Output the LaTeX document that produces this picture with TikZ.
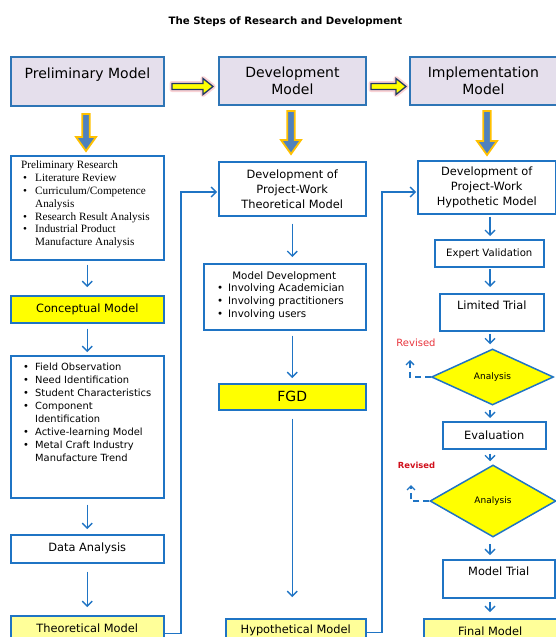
\documentclass[tikz,border=0pt]{standalone}
\usepackage{fontspec}
\setmainfont{DejaVu Sans}
\newfontfamily\timesf{Liberation Serif}
\usetikzlibrary{arrows.meta,shapes.geometric}
\definecolor{cblue}{HTML}{1F74C4}
\definecolor{tblue}{HTML}{2E75B6}
\definecolor{lav}{HTML}{E5DFEC}
\definecolor{yel}{HTML}{FFFF00}
\definecolor{lyel}{HTML}{FFFF99}
\definecolor{steel}{HTML}{4F81BD}
\definecolor{gold}{HTML}{FFC000}
\definecolor{navy}{HTML}{1F3864}
\definecolor{glow}{HTML}{F4A6AC}
\definecolor{revred}{HTML}{E8343C}
\definecolor{revdark}{HTML}{D0101C}
\newcommand{\fs}[2]{\fontsize{#1}{#2}\selectfont}
\newcommand{\bl}[2]{\makebox[#1][l]{\hspace{#2}•}}
\newcommand{\harrow}[3]{%
  \draw[draw=glow, line width=5pt, opacity=0.5, line join=round]
    (#1,#3-3) -- (#2-10,#3-3) -- (#2-10,#3-8) -- (#2,#3) -- (#2-10,#3+8) -- (#2-10,#3+3) -- (#1,#3+3) -- cycle;
  \draw[harr]
    (#1,#3-3) -- (#2-10,#3-3) -- (#2-10,#3-8) -- (#2,#3) -- (#2-10,#3+8) -- (#2-10,#3+3) -- (#1,#3+3) -- cycle;}
\newcommand{\varrow}[3]{%
  \draw[varr]
    (#1-3.8,#2) -- (#1+3.8,#2) -- (#1+3.8,#3-14) -- (#1+10,#3-14) -- (#1,#3) -- (#1-10,#3-14) -- (#1-3.8,#3-14) -- cycle;}
\tikzset{
  box/.style={draw=cblue, line width=1.5pt, fill=white, inner sep=1pt, anchor=north west, align=center, font=\fs{11.4}{15}},
  topbox/.style={box, draw=tblue, line width=1.8pt, fill=lav, font=\fs{14}{17}},
  arr/.style={draw=cblue, line width=1.4pt, -{Straight Barb[length=5pt,width=10pt]}},
  dasharr/.style={draw=cblue, line width=1.3pt, dash pattern=on 6pt off 4pt, -{Straight Barb[length=4pt,width=8pt]}},
  dia/.style={diamond, draw=cblue, line width=1.5pt, fill=yel, inner sep=0pt, font=\fs{9}{11}},
  txt/.style={inner sep=0pt, anchor=north west, align=left},
  harr/.style={fill=yel, draw=navy, line width=1.3pt, line join=miter},
  varr/.style={fill=steel, draw=gold, line width=1.8pt, line join=miter},
}
\begin{document}
\begin{tikzpicture}[x=1pt,y=-1pt]
\useasboundingbox (0,0) rectangle (556,637);
\node[font=\bfseries\fs{10.2}{12}] (title) at (285.5,22) {The Steps of Research and Development};

% top row
\node[topbox, minimum width=153pt, minimum height=49pt] (pm) at (10,56) {Preliminary Model\\\mbox{}};
\node[topbox, minimum width=147pt, minimum height=48pt] (dm) at (218,56) {Development\\Model};
\node[topbox, minimum width=147pt, minimum height=48pt] (im) at (409,56) {Implementation\\Model};
\harrow{172}{213}{86.5}
\harrow{371}{406}{86.5}
\varrow{86}{114}{151}
\varrow{291}{111}{154}
\varrow{487}{111}{155}

% column 1
\node[box, minimum width=153pt, minimum height=104pt] (pr) at (10,155) {};
\node[txt, font=\timesf\fs{11.2}{12.8}] (prt) at (21,161) {Preliminary Research\\
\bl{14pt}{2pt}Literature Review\\
\bl{14pt}{2pt}Curriculum/Competence\\
\hspace*{14pt}Analysis\\
\bl{14pt}{2pt}Research Result Analysis\\
\bl{14pt}{2pt}Industrial Product\\
\hspace*{14pt}Manufacture Analysis};
\node[box, fill=yel, minimum width=153pt, minimum height=27pt] (cm) at (10,295) {Conceptual Model};
\node[box, minimum width=153pt, minimum height=142pt] (fo) at (10,355) {};
\node[txt, font=\fs{9.9}{12.9}] (fot) at (23,363) {\bl{12pt}{0pt}Field Observation\\
\bl{12pt}{0pt}Need Identification\\
\bl{12pt}{0pt}Student Characteristics\\
\bl{12pt}{0pt}Component\\
\hspace*{12pt}Identification\\
\bl{12pt}{0pt}Active-learning Model\\
\bl{12pt}{0pt}Metal Craft Industry\\
\hspace*{12pt}Manufacture Trend};
\node[box, minimum width=153pt, minimum height=28pt] (da) at (10,534) {Data Analysis};
\node[box, fill=lyel, minimum width=153pt, minimum height=24pt] (tm) at (10,615) {Theoretical Model};

\draw[arr, shorten <=4pt, shorten >=8pt] (pr.south) -- (cm.north);
\draw[arr, shorten <=5pt, shorten >=3pt] (cm.south) -- (fo.north);
\draw[arr, shorten <=6pt, shorten >=5pt] (fo.south) -- (da.north);
\draw[arr, shorten <=8pt, shorten >=8pt] (da.south) -- (tm.north);

% column 2
\node[box, minimum width=147pt, minimum height=54pt] (devpw) at (218,161) {Development of\\Project-Work\\Theoretical Model};
\node[box, minimum width=162pt, minimum height=66pt] (mdev) at (203,263) {};
\node[txt, text width=134pt, font=\fs{10.3}{12.8}] (mdevt) at (217,271) {\makebox[134pt]{Model Development}\\
\bl{11pt}{0pt}Involving Academician\\
\bl{11pt}{0pt}Involving practitioners\\
\bl{11pt}{0pt}Involving users};
\node[box, fill=yel, minimum width=147pt, minimum height=26pt, font=\fs{14}{17}] (fgd) at (218,383) {FGD};
\node[box, fill=lyel, minimum width=140pt, minimum height=24pt] (hm) at (225,618) {Hypothetical Model};

\draw[arr, shorten <=7pt, shorten >=6pt] (devpw.south) -- (devpw.south |- mdev.north);
\draw[arr, shorten <=5pt, shorten >=5pt] (devpw.south |- mdev.south) -- (devpw.south |- fgd.north);
\draw[arr, shorten <=8pt, shorten >=21pt] (devpw.south |- fgd.south) -- (devpw.south |- hm.north);

% column 3
\coordinate (c3) at (490,0);
\node[box, minimum width=138pt, minimum height=53pt] (ipw) at (417,160) {Development of\\Project-Work\\Hypothetic Model};
\node[box, minimum width=109pt, minimum height=27pt, font=\fs{10.1}{13}] (ev) at (434,239) {Expert Validation};
\node[box, minimum width=104pt, minimum height=37pt] (lt) at (439,293) {Limited Trial\\\mbox{}};
\node[dia, minimum width=122pt, minimum height=56pt] (d1) at (492.5,377) {Analysis};
\node[box, minimum width=103pt, minimum height=27pt] (eval) at (442,421) {Evaluation};
\node[dia, minimum width=126pt, minimum height=72pt] (d2) at (493,501) {Analysis};
\node[box, minimum width=112pt, minimum height=38pt] (mt) at (442,559) {Model Trial\\\mbox{}};
\node[box, fill=lyel, minimum width=133pt, minimum height=24pt] (fin) at (423,618) {Final Model};

\draw[arr, shorten <=2pt, shorten >=3pt] (ipw.south -| c3) -- (ev.north -| c3);
\draw[arr, shorten <=1.5pt, shorten >=6pt] (ev.south -| c3) -- (lt.north -| c3);
\draw[arr, shorten <=2pt, shorten >=4pt] (lt.south -| c3) -- (d1.north -| c3);
\draw[arr, shorten <=4pt, shorten >=3pt] (d1.south -| c3) -- (eval.north -| c3);
\draw[arr, shorten <=4pt, shorten >=3pt] (eval.south -| c3) -- (d2.north -| c3);
\draw[arr, shorten <=6pt, shorten >=4pt] (d2.south -| c3) -- (mt.north -| c3);
\draw[arr, shorten <=3pt, shorten >=6pt] (mt.south -| c3) -- (fin.north -| c3);

% revised loops
\node[text=revred, font=\fs{10}{12}] (rev1) at (416,343) {Revised};
\node[text=revdark, font=\bfseries\fs{8.4}{10}] (rev2) at (416.5,465) {Revised};
\coordinate (r1tip) at (410,360);
\coordinate (r2tip) at (411,485);
\draw[dasharr] (d1.west) -| (r1tip);
\draw[dasharr] (d2.west) -| (r2tip);

% side connectors
\coordinate (j1) at (181,192);
\coordinate (j2) at (382,192);
\draw[arr, shorten >=1pt] ([yshift=-6pt]tm.east) -| (j1) -- (devpw.west |- j1);
\draw[arr, shorten >=1pt] ([yshift=-2pt]hm.east) -| (j2) -- (ipw.west |- j2);
\end{tikzpicture}
\end{document}
